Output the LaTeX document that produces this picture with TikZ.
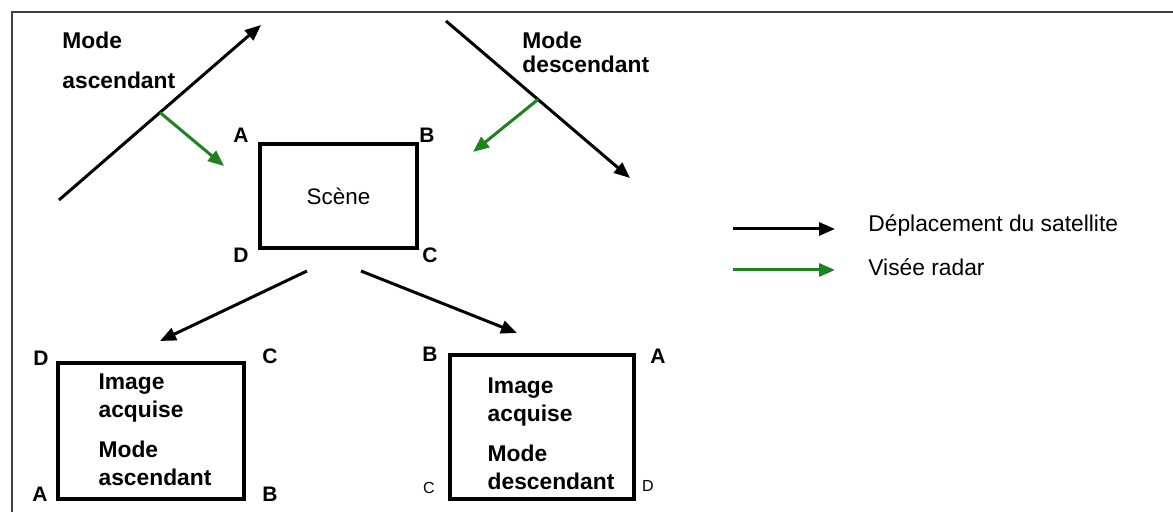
\documentclass[tikz,border=0pt]{standalone}
\usepackage{fontspec}
\setmainfont{Liberation Sans}
\usetikzlibrary{arrows.meta, positioning}
\definecolor{radargreen}{HTML}{1E821E}
\definecolor{framegray}{HTML}{404040}

\begin{document}
\begin{tikzpicture}[
    x=0.5pt, y=-0.5pt,
    box/.style={draw, line width=1.8pt, inner sep=0pt},
    corner/.style={font=\bfseries\fontsize{10.5}{12}\selectfont, inner sep=0pt},
    smallcorner/.style={font=\fontsize{8}{10}\selectfont, inner sep=0pt},
    modelabel/.style={font=\bfseries\fontsize{11.4}{14}\selectfont, align=left, inner sep=0pt},
    track/.style={line width=1.5pt, -{Triangle[length=8pt,width=6.5pt]}},
    sight/.style={line width=1.5pt, radargreen, -{Triangle[length=8pt,width=6.5pt]}},
    legtext/.style={font=\fontsize{11.4}{14}\selectfont, anchor=west, inner sep=0pt}
]
    \useasboundingbox (0,0) rectangle (1173,512);

    % Frame (cut on the right and at the bottom)
    \draw[framegray, line width=1pt] (1173,12) -- (12,12) -- (12,512);

    % Scene
    \node[box, minimum width=78.5pt, minimum height=52pt, font=\fontsize{11.2}{14}\selectfont] (scene) at (338.5,196) {Scène};
    \node[corner] (sceneA) at (241,135) {A};
    \node[corner] (sceneB) at (427,135) {B};
    \node[corner] (sceneD) at (241,255) {D};
    \node[corner] (sceneC) at (430,255) {C};

    % Satellite tracks and radar sight
    \coordinate (ascstart) at (59,200);
    \coordinate (ascend) at (261,25);
    \coordinate (asctarget) at (224,166);
    \draw[track] (ascstart) -- (ascend) coordinate[pos=0.5] (ascsight);
    \draw[sight] (ascsight) -- (asctarget);
    \node[modelabel, anchor=north west] (asclabel) at (62,32) {Mode\\[6pt]ascendant};

    \coordinate (descstart) at (446,21);
    \coordinate (descend) at (630,178);
    \coordinate (desctarget) at (473,152);
    \draw[track] (descstart) -- (descend) coordinate[pos=0.5] (descsight);
    \draw[sight] (descsight) -- (desctarget);
    \node[modelabel, anchor=north west] (desclabel) at (522,32) {Mode\\[-2.3pt]descendant};

    % Acquired images
    \coordinate (splitleft) at (307,271);
    \coordinate (splitright) at (361,271);
    \coordinate (tipleft) at (160,341);
    \coordinate (tipright) at (517,333);
    \draw[track] (splitleft) -- (tipleft);
    \draw[track] (splitright) -- (tipright);

    \node[box, minimum width=93pt, minimum height=68pt] (imgasc) at (151,431) {};
    \node[modelabel] (imgasctext) at (155,430) {Image\\acquise\\[6pt]Mode\\ascendant};
    \node[corner] (ascD) at (41,358) {D};
    \node[corner] (ascC) at (270,356) {C};
    \node[corner] (ascA) at (40,494) {A};
    \node[corner] (ascB) at (270,494) {B};

    \node[box, minimum width=92pt, minimum height=72pt] (imgdesc) at (542,427) {};
    \node[modelabel] (imgdesctext) at (551,434) {Image\\acquise\\[6pt]Mode\\descendant};
    \node[corner] (descB) at (430,354) {B};
    \node[corner] (descA) at (658,356) {A};
    \node[smallcorner] (descC) at (429,488) {C};
    \node[smallcorner] (descD) at (648,486) {D};

    % Legend
    \coordinate (legtrack) at (733,229);
    \coordinate (legtracktip) at (835,229);
    \coordinate (legsight) at (733,270);
    \coordinate (legsighttip) at (835,270);
    \draw[track] (legtrack) -- (legtracktip);
    \draw[sight] (legsight) -- (legsighttip);
    \node[legtext] (legtracktext) at (868,225) {Déplacement du satellite};
    \node[legtext] (legsighttext) at (868,267) {Visée radar};
\end{tikzpicture}
\end{document}
